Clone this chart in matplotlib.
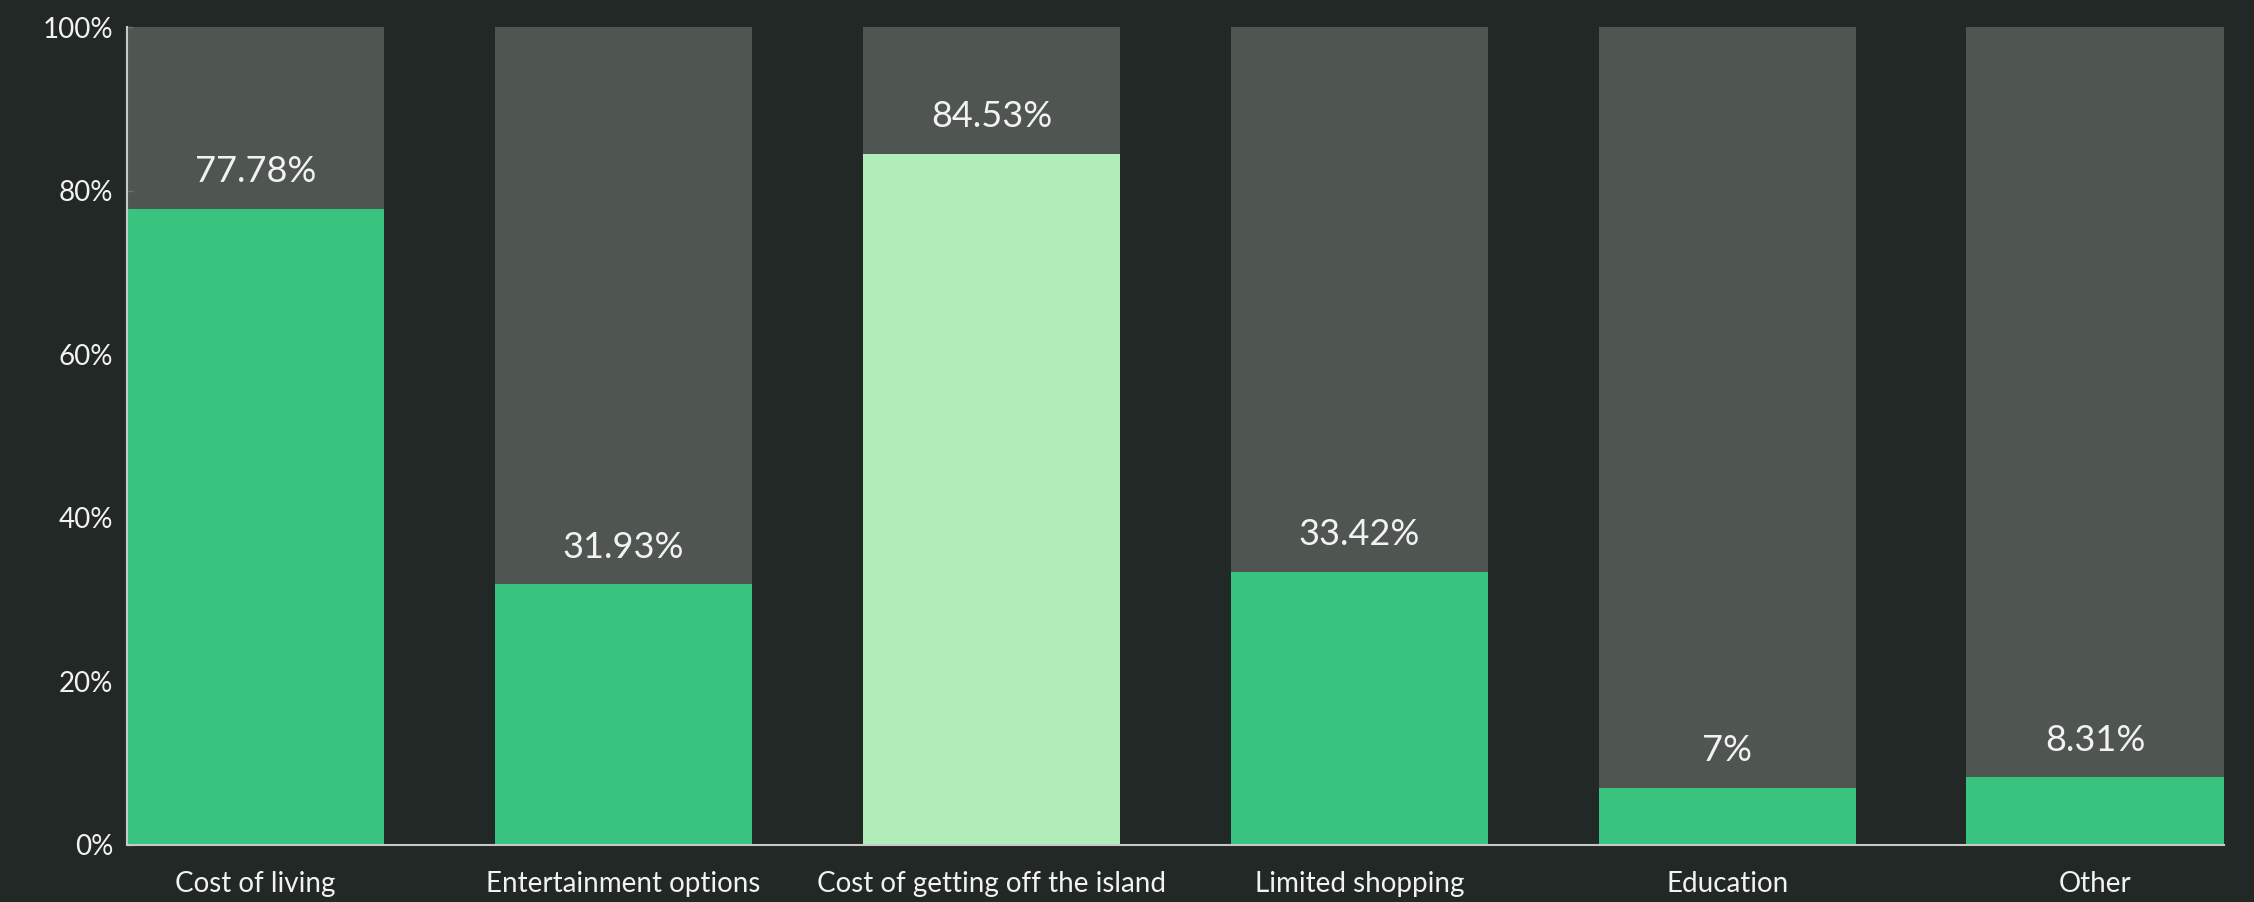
#!/usr/bin/env python3
"""Share of respondents citing each challenge, stacked against 100%"""

import matplotlib.pyplot as plt

# Data
categories = ['Cost of living', 'Entertainment options', 'Cost of getting off the island',
              'Limited shopping', 'Education', 'Other']
values = [77.78, 31.93, 84.53, 33.42, 7.0, 8.31]
value_labels = ['77.78%', '31.93%', '84.53%', '33.42%', '7%', '8.31%']
highlight = [False, False, True, False, False, False]
y_ticks = [0, 20, 40, 60, 80, 100]
y_tick_labels = ['0%', '20%', '40%', '60%', '80%', '100%']

BG = '#212825'
TRACK = '#4f5551'
GREEN = '#38c37f'
LIGHT_GREEN = '#b1edb8'
TEXT = '#f2f2f2'

plt.rcParams['font.family'] = ['Lato', 'DejaVu Sans']

fig, ax = plt.subplots(figsize=(22.54, 9.02), dpi=100)
fig.patch.set_facecolor(BG)
ax.set_facecolor(BG)
fig.subplots_adjust(left=0.0563, right=0.9867, top=0.970, bottom=0.0632)

x = list(range(len(categories)))
width = 0.7

# Full-height grey track behind each bar
ax.bar(x, [100] * len(x), width=width, color=TRACK, zorder=1)
colors = [LIGHT_GREEN if h else GREEN for h in highlight]
ax.bar(x, values, width=width, color=colors, zorder=2)

for xi, v, lab in zip(x, values, value_labels):
    ax.text(xi, v + 4.5, lab, ha='center', va='center', color=TEXT,
            fontsize=26, zorder=3)

ax.set_xlim(-width / 2, len(x) - 1 + width / 2)
ax.set_ylim(0, 100)
ax.set_xticks(x)
ax.set_xticklabels(categories, fontsize=20, color=TEXT)
ax.set_yticks(y_ticks)
ax.set_yticklabels(y_tick_labels, fontsize=20, color=TEXT)
ax.tick_params(axis='x', direction='in', length=5, width=1, color='#6a6f6c', pad=19)
ax.tick_params(axis='y', direction='in', length=4, width=1, color='#6a6f6c', pad=10)

for side in ['top', 'right']:
    ax.spines[side].set_visible(False)
for side in ['left', 'bottom']:
    ax.spines[side].set_color('#c8c8c8')
    ax.spines[side].set_linewidth(1.5)
    ax.spines[side].set_zorder(4)

plt.savefig('out.png', dpi=100, facecolor=BG)
